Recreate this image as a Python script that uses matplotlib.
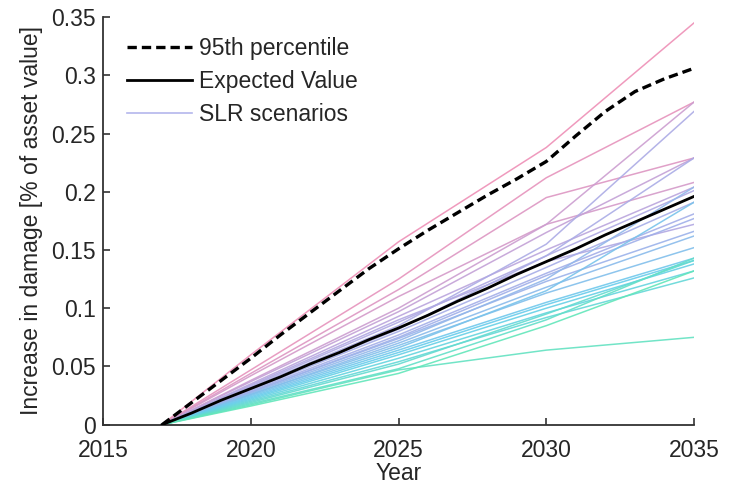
import numpy as np
import matplotlib
matplotlib.use("Agg")
import matplotlib.pyplot as plt
from matplotlib.colors import LinearSegmentedColormap

plt.rcParams['font.family'] = ['Liberation Sans', 'DejaVu Sans']

# ---------------- data ----------------
years_black = list(range(2017, 2036))
p95 = [0, 0.019, 0.038, 0.057, 0.077, 0.096, 0.115, 0.134, 0.151, 0.167,
       0.182, 0.197, 0.211, 0.226, 0.248, 0.269, 0.286, 0.297, 0.306]
expected = [0, 0.010, 0.021, 0.031, 0.041, 0.052, 0.062, 0.073, 0.083, 0.094,
            0.106, 0.117, 0.129, 0.140, 0.151, 0.163, 0.174, 0.185, 0.196]

years_slr = [2017, 2020, 2025, 2030, 2035]
slr_1 = [0, 0.060, 0.157, 0.238, 0.345]
slr_2 = [0, 0.047, 0.125, 0.212, 0.277]
slr_3 = [0, 0.044, 0.116, 0.195, 0.229]
slr_4 = [0, 0.042, 0.110, 0.172, 0.208]
slr_5 = [0, 0.038, 0.100, 0.172, 0.277]
slr_6 = [0, 0.037, 0.097, 0.165, 0.229]
slr_7 = [0, 0.035, 0.093, 0.150, 0.204]
slr_8 = [0, 0.032, 0.085, 0.155, 0.269]
slr_9 = [0, 0.034, 0.090, 0.140, 0.172]
slr_10 = [0, 0.033, 0.088, 0.145, 0.201]
slr_11 = [0, 0.031, 0.082, 0.145, 0.229]
slr_12 = [0, 0.030, 0.080, 0.135, 0.191]
slr_13 = [0, 0.029, 0.077, 0.130, 0.181]
slr_14 = [0, 0.028, 0.075, 0.128, 0.177]
slr_15 = [0, 0.028, 0.074, 0.123, 0.166]
slr_16 = [0, 0.027, 0.072, 0.125, 0.204]
slr_17 = [0, 0.026, 0.070, 0.118, 0.162]
slr_18 = [0, 0.026, 0.068, 0.113, 0.152]
slr_19 = [0, 0.025, 0.066, 0.115, 0.191]
slr_20 = [0, 0.024, 0.064, 0.105, 0.143]
slr_21 = [0, 0.023, 0.062, 0.103, 0.141]
slr_22 = [0, 0.022, 0.060, 0.100, 0.138]
slr_23 = [0, 0.021, 0.057, 0.096, 0.132]
slr_24 = [0, 0.020, 0.054, 0.092, 0.126]
slr_25 = [0, 0.019, 0.052, 0.095, 0.141]
slr_26 = [0, 0.018, 0.048, 0.090, 0.143]
slr_27 = [0, 0.017, 0.047, 0.064, 0.075]
slr_28 = [0, 0.016, 0.044, 0.085, 0.132]
slr_series = [slr_1, slr_2, slr_3, slr_4, slr_5, slr_6, slr_7, slr_8, slr_9,
              slr_10, slr_11, slr_12, slr_13, slr_14, slr_15, slr_16, slr_17,
              slr_18, slr_19, slr_20, slr_21, slr_22, slr_23, slr_24, slr_25,
              slr_26, slr_27, slr_28]

x_ticks = [2015, 2020, 2025, 2030, 2035]
y_ticks = [0, 0.05, 0.1, 0.15, 0.2, 0.25, 0.3, 0.35]
y_ticklabels = ['0', '0.05', '0.1', '0.15', '0.2', '0.25', '0.3', '0.35']

# ---------------- plot ----------------
fig = plt.figure(figsize=(7.36, 4.87), dpi=100)
ax = fig.add_axes([0.140, 0.128, 0.803, 0.837])

cmap = LinearSegmentedColormap.from_list(
    'slr', ['#62e6ba', '#66cdec', '#9fb0ea', '#b3a8e2', '#ee8fb6'])
order_vals = np.array([s[2] for s in slr_series])
ranks = order_vals.argsort().argsort() / (len(slr_series) - 1)

for s, r in zip(slr_series, ranks):
    ax.plot(years_slr, s, color=cmap(r), lw=1.1, alpha=0.9, zorder=2)

l95, = ax.plot(years_black, p95, color='black', lw=2.4, ls=(0, (2.8, 1.5)),
               zorder=4, label='95th percentile')
lev, = ax.plot(years_black, expected, color='black', lw=2.0, zorder=4,
               label='Expected Value')
lslr, = ax.plot([], [], color='#b4b6ec', lw=1.2, label='SLR scenarios')

ax.set_xlim(2015, 2035)
ax.set_ylim(0, 0.35)
ax.set_xticks(x_ticks)
ax.set_yticks(y_ticks)
ax.set_yticklabels(y_ticklabels)

fs = 16.5
txtc = '#262626'
for sp in ['top', 'right']:
    ax.spines[sp].set_visible(False)
for sp in ['left', 'bottom']:
    ax.spines[sp].set_color('#333333')
    ax.spines[sp].set_linewidth(1.3)
ax.tick_params(direction='in', length=5, width=1.2, colors='#333333',
               labelsize=fs, labelcolor=txtc)
ax.tick_params(axis='x', pad=10)
ax.tick_params(axis='y', pad=5)

ax.set_xlabel('Year', fontsize=fs, color=txtc, labelpad=0)
ax.set_ylabel('Increase in damage [% of asset value]', fontsize=fs,
              color=txtc, labelpad=6)

leg = ax.legend(handles=[l95, lev, lslr], loc='upper left',
                bbox_to_anchor=(0.04, 0.95), frameon=False,
                fontsize=fs, handlelength=2.85, handletextpad=0.3,
                labelspacing=0.42, borderaxespad=0, borderpad=0)
for t in leg.get_texts():
    t.set_color(txtc)

fig.savefig('out.png', dpi=100)
